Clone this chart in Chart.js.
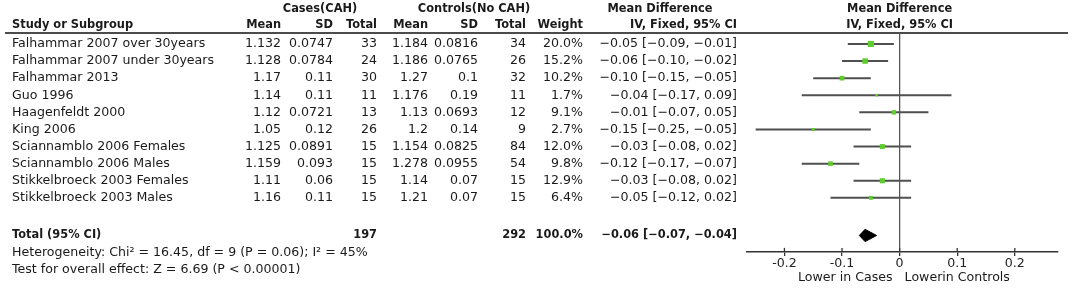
<!DOCTYPE html>
<html lang="en">
<head>
<meta charset="UTF-8">
<title>Forest plot - CAH</title>
<script src="https://cdn.jsdelivr.net/npm/chart.js@4"></script>
<style>
    html, body { margin: 0; padding: 0; background: #fff; }
    canvas { display: block; }
</style>
</head>
<body>
<canvas id="forestChart" width="1074" height="288"></canvas>
<script>
// data
var studies = ['Falhammar 2007 over 30years', 'Falhammar 2007 under 30years', 'Falhammar 2013', 'Guo 1996',
    'Haagenfeldt 2000', 'King 2006', 'Sciannamblo 2006 Females', 'Sciannamblo 2006 Males',
    'Stikkelbroeck 2003 Females', 'Stikkelbroeck 2003 Males'];
var caseMean = [1.132, 1.128, 1.17, 1.14, 1.12, 1.05, 1.125, 1.159, 1.11, 1.16];
var caseSD = [0.0747, 0.0784, 0.11, 0.11, 0.0721, 0.12, 0.0891, 0.093, 0.06, 0.11];
var caseTotal = [33, 24, 30, 11, 13, 26, 15, 15, 15, 15];
var ctrlMean = [1.184, 1.186, 1.27, 1.176, 1.13, 1.2, 1.154, 1.278, 1.14, 1.21];
var ctrlSD = [0.0816, 0.0765, 0.1, 0.19, 0.0693, 0.14, 0.0825, 0.0955, 0.07, 0.07];
var ctrlTotal = [34, 26, 32, 11, 12, 9, 84, 54, 15, 15];
var weights = [20.0, 15.2, 10.2, 1.7, 9.1, 2.7, 12.0, 9.8, 12.9, 6.4];
var md = [-0.05, -0.06, -0.10, -0.04, -0.01, -0.15, -0.03, -0.12, -0.03, -0.05];
var ciLow = [-0.09, -0.10, -0.15, -0.17, -0.07, -0.25, -0.08, -0.17, -0.08, -0.12];
var ciHigh = [-0.01, -0.02, -0.05, 0.09, 0.05, -0.05, 0.02, -0.07, 0.02, 0.02];

var totalCases = 197;
var totalControls = 292;
var totalWeight = 100.0;
var totalMD = -0.06;
var totalLow = -0.07;
var totalHigh = -0.04;

var xTicks = [-0.2, -0.1, 0, 0.1, 0.2];
var heterogeneity = 'Heterogeneity: Chi\u00b2 = 16.45, df = 9 (P = 0.06); I\u00b2 = 45%';
var overallEffect = 'Test for overall effect: Z = 6.69 (P < 0.00001)';

var totalRow = 11.2;
var FONT = '"DejaVu Sans", Verdana, sans-serif';
var GREEN = '#5fcd2d';

// right edges of the table columns
var colCaseMean = 281, colCaseSD = 333, colCaseN = 377;
var colCtrlMean = 428, colCtrlSD = 478, colCtrlN = 526;
var colWeight = 583, colCI = 737;

function fmt(v) {
    return (v < 0 ? '\u2212' : '') + Math.abs(v).toFixed(2);
}
function ciText(m, l, h) {
    return fmt(m) + ' [' + fmt(l) + ', ' + fmt(h) + ']';
}

// one line per confidence interval
var datasets = [];
studies.forEach(function (s, i) {
    datasets.push({
        data: [{ x: ciLow[i], y: i }, { x: ciHigh[i], y: i }],
        showLine: true,
        borderColor: '#4f4f4f',
        borderWidth: 2,
        pointRadius: 0,
        order: 3
    });
});

// squares sized by weight, drawn on top of the lines
datasets.push({
    data: md.map(function (v, i) { return { x: v, y: i }; }),
    pointStyle: 'rect',
    pointRadius: weights.map(function (w) { return (1.15 * Math.sqrt(w) + 1) / 1.414; }),
    backgroundColor: GREEN,
    borderColor: GREEN,
    borderWidth: 0,
    order: 0
});

var dh = 0.36;
datasets.push({
    data: [{ x: totalLow, y: totalRow }, { x: totalMD, y: totalRow - dh }, { x: totalHigh, y: totalRow },
        { x: totalMD, y: totalRow + dh }, { x: totalLow, y: totalRow }],
    showLine: true,
    fill: 'shape',
    backgroundColor: '#000',
    borderColor: '#000',
    borderWidth: 1,
    pointRadius: 0,
    order: 1
});

function txt(ctx, s, x, y, align, bold) {
    ctx.font = bold ? 'bold 11.4px ' + FONT : '12.6px ' + FONT;
    ctx.textAlign = align || 'left';
    ctx.textBaseline = 'middle';
    ctx.fillStyle = '#1a1a1a';
    ctx.fillText(s, x, y);
}

var tablePlugin = {
    id: 'table',
    afterDraw: function (chart) {
        var ctx = chart.ctx;
        var xs = chart.scales.x;
        var ys = chart.scales.y;
        var area = chart.chartArea;
        var x0 = xs.getPixelForValue(0);
        ctx.save();

        // header rule
        ctx.strokeStyle = '#111';
        ctx.lineWidth = 1.5;
        ctx.beginPath();
        ctx.moveTo(5, area.top);
        ctx.lineTo(1068, area.top);
        ctx.stroke();

        // line of no effect
        ctx.strokeStyle = '#555';
        ctx.lineWidth = 1.3;
        ctx.beginPath();
        ctx.moveTo(x0, area.top);
        ctx.lineTo(x0, area.bottom);
        ctx.stroke();

        // tick marks above the axis too
        ctx.strokeStyle = '#333';
        ctx.lineWidth = 1.3;
        xTicks.forEach(function (t) {
            var px = xs.getPixelForValue(t);
            ctx.beginPath();
            ctx.moveTo(px, area.bottom - 4);
            ctx.lineTo(px, area.bottom);
            ctx.stroke();
        });

        // headers
        txt(ctx, 'Cases(CAH)', 320, 9, 'center', true);
        txt(ctx, 'Controls(No CAH)', 474, 9, 'center', true);
        txt(ctx, 'Mean Difference', 660, 9, 'center', true);
        txt(ctx, 'Mean Difference', x0, 9, 'center', true);
        txt(ctx, 'Study or Subgroup', 12, 25, 'left', true);
        txt(ctx, 'Mean', colCaseMean, 25, 'right', true);
        txt(ctx, 'SD', colCaseSD, 25, 'right', true);
        txt(ctx, 'Total', colCaseN, 25, 'right', true);
        txt(ctx, 'Mean', colCtrlMean, 25, 'right', true);
        txt(ctx, 'SD', colCtrlSD, 25, 'right', true);
        txt(ctx, 'Total', colCtrlN, 25, 'right', true);
        txt(ctx, 'Weight', colWeight, 25, 'right', true);
        txt(ctx, 'IV, Fixed, 95% CI', colCI, 25, 'right', true);
        txt(ctx, 'IV, Fixed, 95% CI', x0, 25, 'center', true);

        // study rows
        studies.forEach(function (s, i) {
            var y = ys.getPixelForValue(i);
            txt(ctx, s, 12, y, 'left');
            txt(ctx, String(caseMean[i]), colCaseMean, y, 'right');
            txt(ctx, String(caseSD[i]), colCaseSD, y, 'right');
            txt(ctx, String(caseTotal[i]), colCaseN, y, 'right');
            txt(ctx, String(ctrlMean[i]), colCtrlMean, y, 'right');
            txt(ctx, String(ctrlSD[i]), colCtrlSD, y, 'right');
            txt(ctx, String(ctrlTotal[i]), colCtrlN, y, 'right');
            txt(ctx, weights[i].toFixed(1) + '%', colWeight, y, 'right');
            txt(ctx, ciText(md[i], ciLow[i], ciHigh[i]), colCI, y, 'right');
        });

        // total + stats
        var yt = ys.getPixelForValue(totalRow);
        txt(ctx, 'Total (95% CI)', 12, yt, 'left', true);
        txt(ctx, String(totalCases), colCaseN, yt, 'right', true);
        txt(ctx, String(totalControls), colCtrlN, yt, 'right', true);
        txt(ctx, totalWeight.toFixed(1) + '%', colWeight, yt, 'right', true);
        txt(ctx, ciText(totalMD, totalLow, totalHigh), colCI, yt, 'right', true);
        txt(ctx, heterogeneity, 12, yt + 17, 'left');
        txt(ctx, overallEffect, 12, yt + 34, 'left');

        // favours labels
        txt(ctx, 'Lower in Cases', x0 - 7, 278, 'right');
        txt(ctx, 'Lowerin Controls', x0 + 5, 278, 'left');

        ctx.restore();
    }
};

var ctxForest = document.getElementById('forestChart').getContext('2d');
var forestChart = new Chart(ctxForest, {
    type: 'scatter',
    data: { datasets: datasets },
    options: {
        responsive: false,
        animation: false,
        layout: { padding: { left: 747, right: 16, top: 33, bottom: 17 } },
        plugins: {
            legend: { display: false },
            tooltip: { enabled: false }
        },
        scales: {
            x: {
                type: 'linear',
                min: -0.265,
                max: 0.275,
                afterBuildTicks: function (scale) {
                    scale.ticks = xTicks.map(function (v) { return { value: v }; });
                },
                ticks: {
                    padding: 0,
                    color: '#222',
                    font: { family: FONT, size: 12.6 },
                    callback: function (v) { return v === 0 ? '0' : v.toFixed(1); }
                },
                grid: { drawOnChartArea: false, tickLength: 4, color: '#333', lineWidth: 1.3 },
                border: { color: '#333', width: 1.5 }
            },
            y: {
                type: 'linear',
                reverse: true,
                min: -0.64,
                max: 12.16,
                display: false
            }
        }
    },
    plugins: [tablePlugin]
});
</script>
</body>
</html>
